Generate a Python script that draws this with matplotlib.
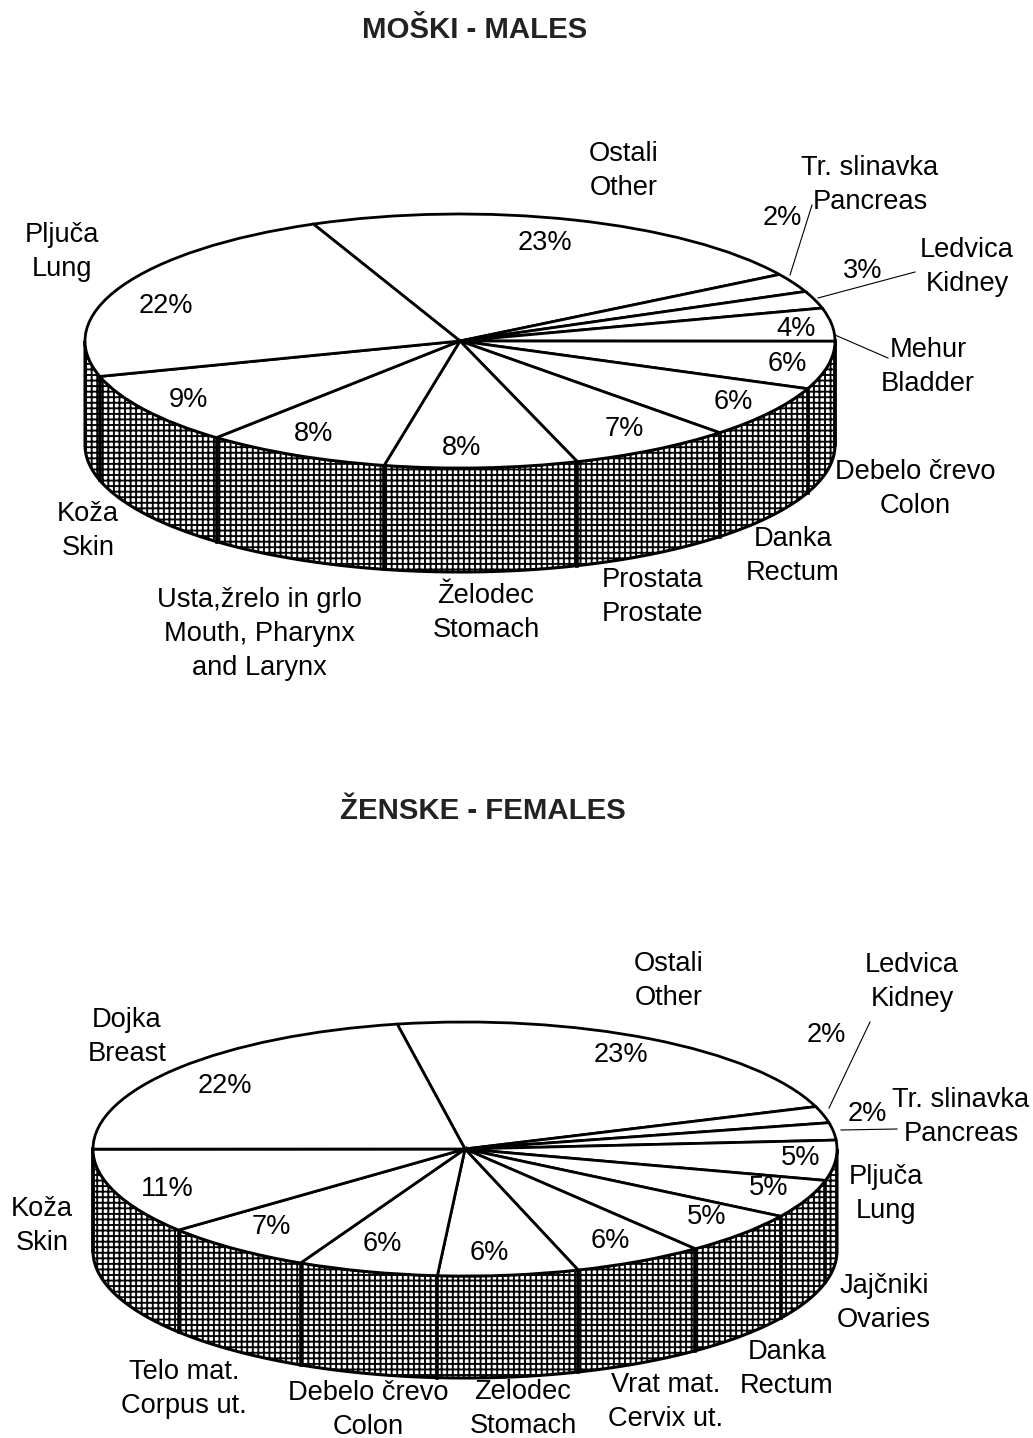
import matplotlib
matplotlib.use('Agg')
import matplotlib.pyplot as plt
from matplotlib.patches import Polygon
import numpy as np

plt.rcParams['font.family'] = ['Liberation Sans', 'DejaVu Sans']
plt.rcParams['hatch.linewidth'] = 1.35

W, H = 1033, 1438

# values, printed labels are rounded
male_names = ['Ostali\nOther', 'Tr. slinavka\nPancreas', 'Ledvica\nKidney', 'Mehur\nBladder',
              'Debelo črevo\nColon', 'Danka\nRectum', 'Prostata\nProstate', 'Želodec\nStomach',
              'Usta,žrelo in grlo\nMouth, Pharynx\nand Larynx', 'Koža\nSkin', 'Pljuča\nLung']
male_values = [22.6, 2.4, 2.2, 4.2, 6.1, 6.7, 7.1, 8.3, 8.0, 9.25, 23.1]
male_labels = ['23%', '2%', '3%', '4%', '6%', '6%', '7%', '8%', '8%', '9%', '22%']

female_names = ['Ostali\nOther', 'Ledvica\nKidney', 'Tr. slinavka\nPancreas', 'Pljuča\nLung',
                'Jajčniki\nOvaries', 'Danka\nRectum', 'Vrat mat.\nCervix ut.', 'Želodec\nStomach',
                'Debelo črevo\nColon', 'Telo mat.\nCorpus ut.', 'Koža\nSkin', 'Dojka\nBreast']
female_values = [22.5, 2.1, 2.2, 5.1, 4.9, 5.5, 5.7, 6.1, 6.1, 6.7, 11.0, 22.1]
female_labels = ['23%', '2%', '2%', '5%', '5%', '5%', '6%', '6%', '6%', '7%', '11%', '22%']

# where the texts sit, in pixels of the page
male_name_pos = [(624, 171), (870, 185), (967, 267), (928, 367), (915, 489), (793, 556),
                 (653, 597), (486, 613), (259, 634), (88, 531), (62, 252)]
male_pct_pos = [(545, 243), (782, 218), (863, 271), (796, 329), (787, 364), (733, 402),
                (624, 429), (462, 448), (314, 434), (188, 400), (166, 306)]
female_name_pos = [(669, 981), (912, 982), (961, 1117), (886, 1194), (884, 1303), (787, 1369),
                   (666, 1402), (523, 1409), (368, 1410), (184, 1389), (42, 1226), (127, 1037)]
female_pct_pos = [(621, 1055), (826, 1035), (867, 1114), (801, 1158), (769, 1188), (707, 1217),
                  (610, 1241), (489, 1253), (382, 1244), (271, 1227), (167, 1189), (225, 1086)]


def pie3d(fig, values, start, cx, cy, rx, ry, depth):
    ax = fig.add_axes([(cx - rx) / W, 1 - (cy + ry + depth) / H, 2 * rx / W, (2 * ry + depth) / H])
    d = depth / ry
    wedges, _ = ax.pie(values, startangle=start, counterclock=False, normalize=True,
                       wedgeprops=dict(facecolor='white', edgecolor='black', linewidth=2.0, zorder=3))
    for w in wedges:
        w.set_clip_on(False)
    ax.set_aspect('auto')
    ax.set_xlim(-1, 1)
    ax.set_ylim(-1 - d, 1)
    ax.axis('off')

    # side wall below the front half
    t = np.radians(np.linspace(180, 360, 200))
    top = np.column_stack([np.cos(t), np.sin(t)])
    bottom = np.column_stack([np.cos(t[::-1]), np.sin(t[::-1]) - d])
    wall = Polygon(np.vstack([top, bottom]), closed=True, facecolor='white', edgecolor='black',
                   hatch='+++', linewidth=2.2, zorder=1, clip_on=False)
    ax.add_patch(wall)

    # dividers on the wall where slices end
    edges = start - np.cumsum(values) / np.sum(values) * 360
    for a in np.radians(edges):
        if np.sin(a) < 0:
            ax.plot([np.cos(a)] * 2, [np.sin(a), np.sin(a) - d], color='black', lw=2.6,
                    zorder=2, clip_on=False)


def put_texts(ax, texts, positions):
    for s, (x, y) in zip(texts, positions):
        ax.text(x, y, s, ha='center', va='center', fontsize=19.6, linespacing=1.42, color='black')


fig = plt.figure(figsize=(W / 100, H / 100), dpi=100, facecolor='white')

pie3d(fig, male_values, 113, 460, 341, 375, 127, 104)
pie3d(fig, female_values, 100.5, 465, 1149, 372, 127, 102)

page = fig.add_axes([0, 0, 1, 1], zorder=5)
page.set_xlim(0, W)
page.set_ylim(H, 0)
page.axis('off')
page.patch.set_alpha(0)

page.text(475, 30, 'MOŠKI - MALES', ha='center', va='center', fontsize=21.2, fontweight='bold', color='#222222')
page.text(483, 811, 'ŽENSKE - FEMALES', ha='center', va='center', fontsize=21.2, fontweight='bold', color='#222222')

put_texts(page, male_names, male_name_pos)
put_texts(page, male_labels, male_pct_pos)
put_texts(page, female_names, female_name_pos)
put_texts(page, female_labels, female_pct_pos)

# leader lines
for (x0, y0), (x1, y1) in [((790, 275), (812, 205)), ((818, 298), (915, 272)), ((835, 335), (888, 358)),
                           ((829, 1108), (870, 1022)), ((841, 1130), (897, 1129))]:
    page.plot([x0, x1], [y0, y1], color='black', lw=0.8)

fig.savefig('out.png', dpi=100)
